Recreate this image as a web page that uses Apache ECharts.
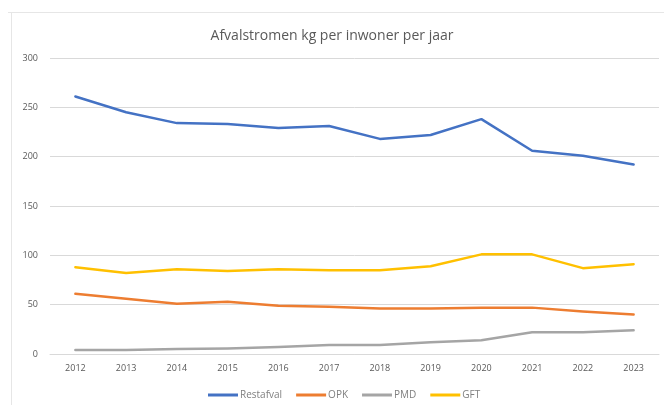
<!DOCTYPE html>
<html><head><meta charset="utf-8">
<script src="https://cdn.jsdelivr.net/npm/echarts@6/dist/echarts.min.js"></script>
<style>html,body{margin:0;padding:0;background:#fff}#c{width:664px;height:405px}</style>
</head><body><div id="c"></div>
<script>
const years = ['2012','2013','2014','2015','2016','2017','2018','2019','2020','2021','2022','2023'];
const restafval = [261, 245, 234, 233, 229, 231, 218, 222, 238, 206, 201, 192];
const opk = [61, 56, 51, 53, 49, 48, 46, 46, 47, 47, 43, 40];
const pmd = [4, 4, 5, 5.5, 7, 9, 9, 12, 14, 22, 22, 24];
const gft = [88, 82, 86, 84, 86, 85, 85, 89, 101, 101, 87, 91];
const yTicks = [0, 50, 100, 150, 200, 250, 300];

const chart = echarts.init(document.getElementById('c'));
const mk = (name, data, color) => ({
  name, type: 'line', data, symbol: 'none', smooth: false,
  lineStyle: { width: 2.5, color, cap: 'round', join: 'round' }, itemStyle: { color }
});
chart.setOption({
  animation: false,
  backgroundColor: '#fff',
  title: { text: 'Afvalstromen kg per inwoner per jaar', left: 'center', top: 24,
    textStyle: { fontFamily: 'Open Sans', fontSize: 14, fontWeight: 'normal', color: '#595959' } },
  graphic: [
    { type: 'line', shape: { x1: 8, y1: 12.5, x2: 664, y2: 12.5 }, style: { stroke: '#e6e6e6', lineWidth: 1 } },
    { type: 'line', shape: { x1: 11.5, y1: 12, x2: 11.5, y2: 405 }, style: { stroke: '#e6e6e6', lineWidth: 1 } }
  ],
  grid: { left: 50, right: 5, top: 58, bottom: 51 },
  legend: { bottom: 0, left: 203, itemWidth: 30, itemHeight: 3, itemGap: 14, icon: 'rect',
    textStyle: { fontFamily: 'Open Sans', fontSize: 10, color: '#7f7f7f', padding: [0, 0, 0, -3] },
    data: ['Restafval', 'OPK', 'PMD', 'GFT'] },
  xAxis: { type: 'category', data: years, boundaryGap: true,
    axisLine: { show: true, lineStyle: { color: '#d9d9d9' } }, axisTick: { show: false },
    axisLabel: { fontFamily: 'Open Sans', fontSize: 9, color: '#595959', margin: 10 } },
  yAxis: { type: 'value', min: yTicks[0], max: yTicks[yTicks.length - 1], interval: 50,
    axisLine: { show: false }, axisTick: { show: false },
    splitLine: { lineStyle: { color: '#d9d9d9' } },
    axisLabel: { fontFamily: 'Open Sans', fontSize: 9, color: '#595959', margin: 12 } },
  series: [
    mk('Restafval', restafval, '#4472C4'),
    mk('OPK', opk, '#ED7D31'),
    mk('PMD', pmd, '#A5A5A5'),
    mk('GFT', gft, '#FFC000')
  ]
});
</script></body></html>
